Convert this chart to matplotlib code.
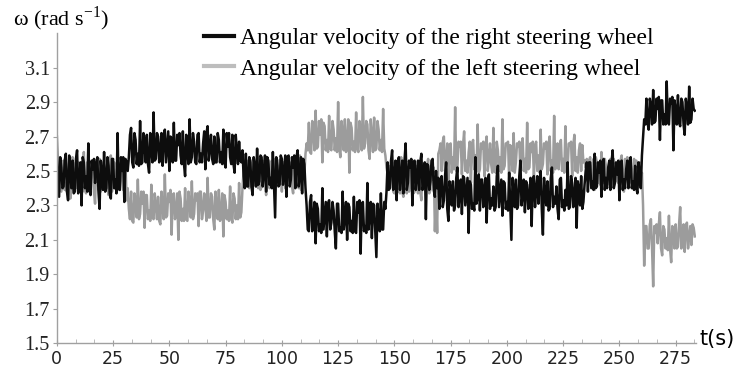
import numpy as np
import matplotlib

matplotlib.use("Agg")
import matplotlib.pyplot as plt
from matplotlib.ticker import MultipleLocator

# angular velocity (rad/s) read off the figure, sampled every 0.5 s:
# *_full = values at whole seconds, *_half = values at t + 0.5 s

right_full = [
    # 0-31 s
    2.70, 2.35, 2.52, 2.41, 2.60, 2.33, 2.49, 2.56, 2.38, 2.62,
    2.44, 2.30, 2.55, 2.47, 2.66, 2.36, 2.51, 2.43, 2.58, 2.28,
    2.49, 2.61, 2.40, 2.53, 2.34, 2.57, 2.45, 2.72, 2.39, 2.50,
    2.32, 2.55,
    # 32-82 s
    2.58, 2.75, 2.52, 2.68, 2.60, 2.79, 2.55, 2.66, 2.71, 2.49,
    2.63, 2.84, 2.57, 2.70, 2.61, 2.53, 2.74, 2.64, 2.50, 2.69,
    2.78, 2.56, 2.65, 2.59, 2.73, 2.47, 2.62, 2.80, 2.58, 2.67,
    2.54, 2.72, 2.60, 2.66, 2.51, 2.76, 2.63, 2.57, 2.70, 2.55,
    2.68, 2.61, 2.74, 2.52, 2.64, 2.58, 2.71, 2.49, 2.62, 2.67,
    2.55,
    # 83-110 s
    2.47, 2.60, 2.41, 2.55, 2.36, 2.52, 2.63, 2.44, 2.58, 2.49,
    2.38, 2.56, 2.46, 2.61, 2.23, 2.53, 2.42, 2.57, 2.48, 2.35,
    2.59, 2.45, 2.52, 2.40, 2.62, 2.47, 2.37, 2.54,
    # 111-146 s
    2.30, 2.15, 2.36, 2.22, 2.08, 2.28, 2.19, 2.40, 2.24, 2.12,
    2.33, 2.20, 2.27, 2.05, 2.31, 2.17, 2.38, 2.23, 2.10, 2.29,
    2.21, 2.35, 2.14, 2.26, 2.02, 2.32, 2.18, 2.43, 2.25, 2.11,
    2.30, 2.00, 2.22, 2.37, 2.16, 2.28,
    # 147-168 s
    2.55, 2.40, 2.62, 2.45, 2.33, 2.58, 2.48, 2.37, 2.66, 2.43,
    2.52, 2.30, 2.56, 2.46, 2.39, 2.60, 2.42, 2.22, 2.53, 2.44,
    2.57, 2.35,
    # 169-234 s
    2.40, 2.28, 2.47, 2.33, 2.55, 2.21, 2.39, 2.44, 2.30, 2.52,
    2.36, 2.25, 2.46, 2.38, 2.14, 2.42, 2.31, 2.58, 2.35, 2.27,
    2.45, 2.39, 2.20, 2.48, 2.34, 2.41, 2.29, 2.53, 2.37, 2.24,
    2.43, 2.32, 2.49, 2.10, 2.38, 2.45, 2.30, 2.56, 2.36, 2.26,
    2.42, 2.34, 2.18, 2.47, 2.39, 2.31, 2.50, 2.13, 2.37, 2.44,
    2.28, 2.52, 2.35, 2.41, 2.22, 2.46, 2.33, 2.39, 2.55, 2.29,
    2.43, 2.36, 2.17, 2.40, 2.47, 2.32,
    # 235-260 s
    2.50, 2.38, 2.55, 2.44, 2.60, 2.41, 2.49, 2.35, 2.57, 2.46,
    2.52, 2.39, 2.62, 2.43, 2.48, 2.33, 2.56, 2.45, 2.51, 2.40,
    2.58, 2.44, 2.53, 2.37, 2.49, 2.59,
    # 261-283 s
    2.80, 2.92, 2.74, 2.88, 2.97, 2.79, 2.86, 2.68, 2.91, 2.83,
    3.02, 2.77, 2.89, 2.62, 2.85, 2.94, 2.76, 2.90, 2.71, 2.87,
    2.99, 2.80, 2.86,
]

right_half = [
    2.36, 2.58, 2.40, 2.56, 2.38, 2.59, 2.40, 2.37, 2.57, 2.37,
    2.55, 2.58, 2.40, 2.38, 2.39, 2.56, 2.57, 2.54, 2.38, 2.56,
    2.39, 2.38, 2.58, 2.37, 2.57, 2.40, 2.37, 2.40, 2.58, 2.58,
    2.57, 2.50,
    2.71, 2.55, 2.72, 2.54, 2.53, 2.54, 2.72, 2.55, 2.54, 2.72,
    2.55, 2.56, 2.72, 2.55, 2.72, 2.71, 2.55, 2.73, 2.70, 2.55,
    2.56, 2.71, 2.72, 2.54, 2.54, 2.71, 2.54, 2.55, 2.72, 2.55,
    2.71, 2.55, 2.55, 2.73, 2.72, 2.56, 2.71, 2.54, 2.55, 2.72,
    2.55, 2.54, 2.55, 2.72, 2.72, 2.54, 2.54, 2.71, 2.54, 2.56,
    2.62,
    2.40, 2.41, 2.58, 2.41, 2.58, 2.41, 2.42, 2.59, 2.41, 2.59,
    2.58, 2.42, 2.40, 2.42, 2.58, 2.41, 2.59, 2.42, 2.59, 2.58,
    2.41, 2.58, 2.59, 2.58, 2.41, 2.58, 2.57, 2.40,
    2.16, 2.32, 2.15, 2.32, 2.31, 2.15, 2.14, 2.16, 2.32, 2.31,
    2.16, 2.32, 2.15, 2.31, 2.15, 2.14, 2.16, 2.32, 2.31, 2.15,
    2.14, 2.15, 2.32, 2.33, 2.31, 2.15, 2.14, 2.16, 2.32, 2.31,
    2.15, 2.31, 2.15, 2.16, 2.32, 2.38,
    2.39, 2.56, 2.39, 2.56, 2.55, 2.39, 2.56, 2.56, 2.39, 2.56,
    2.57, 2.55, 2.39, 2.56, 2.55, 2.39, 2.55, 2.54, 2.39, 2.56,
    2.39, 2.50,
    2.46, 2.45, 2.29, 2.47, 2.28, 2.44, 2.30, 2.27, 2.46, 2.29,
    2.45, 2.47, 2.30, 2.46, 2.44, 2.28, 2.27, 2.31, 2.48, 2.45,
    2.29, 2.46, 2.44, 2.28, 2.30, 2.27, 2.47, 2.29, 2.45, 2.44,
    2.28, 2.27, 2.30, 2.46, 2.29, 2.28, 2.47, 2.30, 2.45, 2.44,
    2.28, 2.46, 2.45, 2.29, 2.47, 2.44, 2.28, 2.46, 2.30, 2.27,
    2.46, 2.29, 2.31, 2.28, 2.45, 2.29, 2.27, 2.30, 2.28, 2.47,
    2.29, 2.46, 2.44, 2.30, 2.28, 2.42,
    2.55, 2.55, 2.40, 2.39, 2.40, 2.55, 2.56, 2.54, 2.39, 2.40,
    2.56, 2.55, 2.40, 2.55, 2.56, 2.54, 2.39, 2.40, 2.56, 2.55,
    2.40, 2.39, 2.40, 2.55, 2.40, 2.70,
    2.77, 2.78, 2.92, 2.77, 2.78, 2.92, 2.93, 2.91, 2.77, 2.77,
    2.79, 2.92, 2.93, 2.91, 2.77, 2.78, 2.92, 2.77, 2.92, 2.77,
    2.78, 2.92, 2.85,
]

left_full = [
    # 0-31 s
    2.45, 2.52, 2.38, 2.56, 2.43, 2.49, 2.34, 2.58, 2.46, 2.40,
    2.53, 2.44, 2.61, 2.37, 2.50, 2.42, 2.55, 2.31, 2.48, 2.57,
    2.41, 2.52, 2.45, 2.36, 2.59, 2.47, 2.43, 2.54, 2.39, 2.51,
    2.46, 2.33,
    # 32-82 s
    2.28, 2.38, 2.20, 2.33, 2.45, 2.25, 2.31, 2.17, 2.36, 2.27,
    2.42, 2.22, 2.30, 2.35, 2.19, 2.29, 2.48, 2.24, 2.32, 2.13,
    2.37, 2.26, 2.10, 2.34, 2.28, 2.40, 2.21, 2.31, 2.44, 2.25,
    2.33, 2.18, 2.38, 2.27, 2.30, 2.46, 2.23, 2.35, 2.16, 2.29,
    2.39, 2.24, 2.12, 2.32, 2.27, 2.41, 2.20, 2.34, 2.30, 2.43,
    2.26,
    # 83-110 s
    2.50, 2.42, 2.56, 2.45, 2.39, 2.53, 2.47, 2.58, 2.41, 2.49,
    2.36, 2.54, 2.46, 2.40, 2.57, 2.44, 2.51, 2.38, 2.55, 2.48,
    2.43, 2.52, 2.37, 2.50, 2.45, 2.59, 2.42, 2.48,
    # 111-146 s
    2.66, 2.78, 2.60, 2.73, 2.85, 2.64, 2.71, 2.55, 2.76, 2.68,
    2.82, 2.62, 2.74, 2.69, 2.90, 2.58, 2.72, 2.80, 2.65, 2.49,
    2.75, 2.67, 2.84, 2.61, 2.73, 2.93, 2.66, 2.77, 2.57, 2.70,
    2.81, 2.63, 2.74, 2.68, 2.86, 2.59,
    # 147-168 s
    2.48, 2.40, 2.55, 2.37, 2.50, 2.44, 2.58, 2.35, 2.47, 2.52,
    2.41, 2.56, 2.38, 2.46, 2.53, 2.33, 2.49, 2.43, 2.57, 2.39,
    2.45, 2.15,
    # 169-234 s
    2.14, 2.62, 2.50, 2.70, 2.55, 2.45, 2.66, 2.58, 2.87, 2.52,
    2.64, 2.48, 2.73, 2.56, 2.61, 2.43, 2.68, 2.59, 2.77, 2.51,
    2.63, 2.47, 2.70, 2.57, 2.54, 2.75, 2.49, 2.62, 2.58, 2.80,
    2.53, 2.66, 2.45, 2.60, 2.72, 2.55, 2.64, 2.50, 2.69, 2.57,
    2.78, 2.52, 2.61, 2.46, 2.67, 2.59, 2.74, 2.54, 2.63, 2.48,
    2.70, 2.56, 2.82, 2.60, 2.51, 2.68, 2.57, 2.76, 2.53, 2.65,
    2.47, 2.71, 2.58, 2.62, 2.50, 2.55,
    # 235-260 s
    2.52, 2.44, 2.58, 2.47, 2.39, 2.55, 2.49, 2.61, 2.43, 2.53,
    2.46, 2.57, 2.41, 2.50, 2.54, 2.45, 2.59, 2.38, 2.52, 2.48,
    2.56, 2.42, 2.51, 2.47, 2.55, 2.49,
    # 261-283 s
    1.95, 2.18, 2.05, 2.22, 1.83, 2.14, 2.08, 2.26, 2.01, 2.16,
    2.11, 2.24, 1.97, 2.13, 2.19, 2.06, 2.29, 2.10, 2.03, 2.20,
    2.12, 2.07, 2.17,
]

left_half = [
    2.39, 2.39, 2.55, 2.39, 2.38, 2.55, 2.55, 2.38, 2.55, 2.55,
    2.39, 2.38, 2.39, 2.55, 2.55, 2.55, 2.38, 2.54, 2.39, 2.38,
    2.55, 2.39, 2.55, 2.55, 2.38, 2.55, 2.38, 2.39, 2.55, 2.39,
    2.55, 2.40,
    2.22, 2.21, 2.37, 2.23, 2.22, 2.38, 2.38, 2.36, 2.22, 2.21,
    2.23, 2.37, 2.22, 2.21, 2.38, 2.22, 2.23, 2.37, 2.39, 2.36,
    2.22, 2.37, 2.38, 2.21, 2.21, 2.22, 2.38, 2.23, 2.22, 2.37,
    2.37, 2.38, 2.22, 2.37, 2.21, 2.23, 2.37, 2.22, 2.38, 2.22,
    2.21, 2.37, 2.36, 2.22, 2.21, 2.23, 2.37, 2.22, 2.22, 2.23,
    2.40,
    2.56, 2.55, 2.40, 2.56, 2.57, 2.41, 2.40, 2.39, 2.56, 2.55,
    2.57, 2.40, 2.56, 2.55, 2.41, 2.56, 2.57, 2.55, 2.40, 2.56,
    2.55, 2.41, 2.56, 2.57, 2.40, 2.39, 2.56, 2.60,
    2.62, 2.61, 2.79, 2.62, 2.63, 2.79, 2.80, 2.78, 2.62, 2.61,
    2.63, 2.79, 2.62, 2.61, 2.63, 2.79, 2.62, 2.61, 2.80, 2.78,
    2.62, 2.61, 2.63, 2.79, 2.62, 2.63, 2.79, 2.62, 2.80, 2.61,
    2.62, 2.79, 2.62, 2.61, 2.63, 2.52,
    2.53, 2.53, 2.38, 2.53, 2.38, 2.37, 2.38, 2.53, 2.37, 2.38,
    2.53, 2.37, 2.53, 2.37, 2.38, 2.53, 2.53, 2.52, 2.37, 2.53,
    2.52, 2.35,
    2.60, 2.66, 2.67, 2.50, 2.66, 2.65, 2.49, 2.51, 2.50, 2.67,
    2.67, 2.65, 2.50, 2.49, 2.67, 2.66, 2.51, 2.50, 2.49, 2.66,
    2.67, 2.65, 2.50, 2.66, 2.49, 2.51, 2.67, 2.50, 2.49, 2.51,
    2.66, 2.67, 2.65, 2.50, 2.49, 2.66, 2.67, 2.65, 2.50, 2.49,
    2.51, 2.66, 2.67, 2.65, 2.50, 2.49, 2.51, 2.66, 2.67, 2.65,
    2.50, 2.49, 2.51, 2.66, 2.65, 2.50, 2.49, 2.51, 2.66, 2.67,
    2.65, 2.50, 2.49, 2.66, 2.65, 2.56,
    2.57, 2.56, 2.43, 2.57, 2.58, 2.43, 2.42, 2.44, 2.57, 2.43,
    2.42, 2.43, 2.57, 2.44, 2.43, 2.56, 2.42, 2.57, 2.58, 2.43,
    2.44, 2.57, 2.56, 2.42, 2.43, 2.30,
    2.18, 2.05, 2.19, 2.05, 2.18, 2.19, 2.19, 2.05, 2.18, 2.05,
    2.04, 2.05, 2.18, 2.05, 2.05, 2.19, 2.05, 2.19, 2.18, 2.05,
    2.18, 2.19, 2.12,
]

labels = ["Angular velocity of the right steering wheel",
          "Angular velocity of the left steering wheel"]
yticks = [1.5, 1.7, 1.9, 2.1, 2.3, 2.5, 2.7, 2.9, 3.1]
xticks = [0, 25, 50, 75, 100, 125, 150, 175, 200, 225, 250, 275]


def interleave(full, half):
    t = np.arange(len(full))
    tt = np.column_stack([t, t + 0.5]).ravel()
    vv = np.column_stack([full, half]).ravel()
    return tt, vv


t_r, w_r = interleave(right_full, right_half)
t_l, w_l = interleave(left_full, left_half)

fig = plt.figure(figsize=(7.38, 3.69), dpi=100)
ax = fig.add_axes([0.077, 0.07, 0.866, 0.84])

gray = "#9c9c9c"
l_line, = ax.plot(t_l, w_l, color=gray, lw=1.8)
r_line, = ax.plot(t_r, w_r, color="#0d0d0d", lw=1.8)

ax.set_xlim(0, 284)
ax.set_ylim(1.5, 3.3)
ax.set_yticks(yticks)
ax.set_yticklabels([f"{v:.1f}" for v in yticks], fontfamily="Liberation Serif",
                   fontsize=14.5, color="#222222")
ax.set_xticks(xticks)
ax.set_xticklabels([str(v) for v in xticks], fontfamily="DejaVu Sans",
                   fontsize=12.5, color="#222222")
ax.xaxis.set_minor_locator(MultipleLocator(25 / 3))

for s in ["top", "right"]:
    ax.spines[s].set_visible(False)
for s in ["left", "bottom"]:
    ax.spines[s].set_color("#a0a0a0")
    ax.spines[s].set_linewidth(1.0)

ax.tick_params(axis="y", length=3, color="#a0a0a0", pad=2)
ax.tick_params(axis="x", which="major", length=4, color="#a0a0a0",
               direction="inout", pad=3)
ax.tick_params(axis="x", which="minor", length=3, color="#b0b0b0",
               direction="in")

fig.text(0.018, 0.95, "ω (rad s$^{\\mathregular{-1}}$)", fontfamily="Liberation Serif",
         fontsize=16, va="center", ha="left")
fig.text(0.948, 0.08, "t(s)", fontfamily="DejaVu Sans", fontsize=15,
         va="center", ha="left")

ax.legend([r_line, l_line], labels, loc="upper left",
          bbox_to_anchor=(0.276, 0.925), bbox_transform=fig.transFigure,
          frameon=False, prop={"family": "Liberation Serif", "size": 17},
          handlelength=1.3, handletextpad=0.25, labelspacing=0.38,
          borderaxespad=0, borderpad=0)
leg_lines = ax.get_legend().get_lines()
leg_lines[0].set_linewidth(3)
leg_lines[1].set_linewidth(3)
leg_lines[1].set_color("#bdbdbd")

fig.savefig("out.png", dpi=100)
